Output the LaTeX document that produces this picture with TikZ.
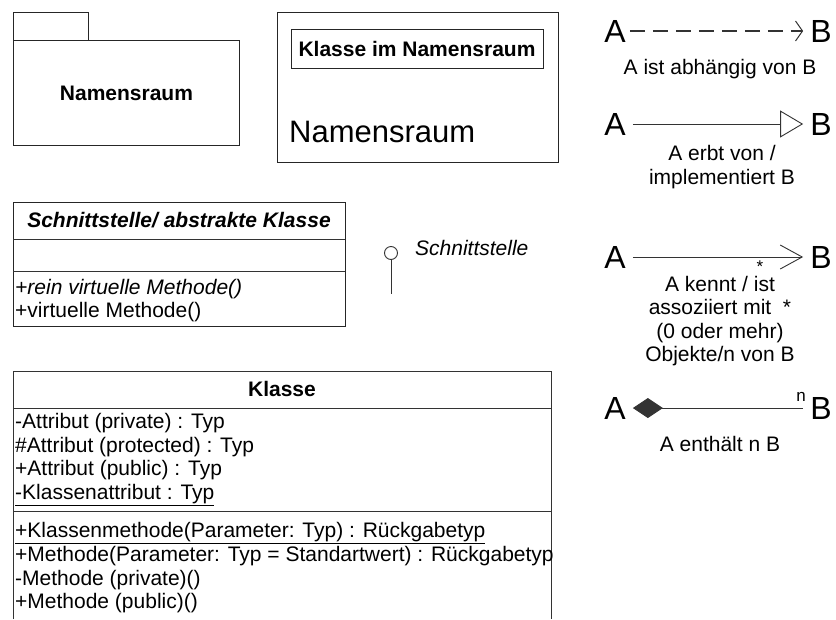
\documentclass[tikz,border=0pt]{standalone}
\usepackage{fontspec}
\setmainfont{Liberation Sans}
\usetikzlibrary{
    arrows.meta,
    positioning
}

\begin{document}
\begin{tikzpicture}[
        x=1pt, y=-1pt,
        every node/.style={
            inner sep=0pt,
            font=\fontsize{21pt}{23.5pt}\selectfont
        },
        frame/.style={
            rectangle,
            draw=black!85,
            line width=0.9pt,
            anchor=north west
        },
        rowtext/.style={
            anchor=base west
        },
        letter/.style={
            font=\fontsize{32pt}{32pt}\selectfont
        },
        caption/.style={
            align=center,
            font=\fontsize{21pt}{23.5pt}\selectfont
        },
        mult/.style={
            font=\fontsize{17pt}{17pt}\selectfont
        },
        link/.style={
            draw=black!80,
            line width=0.9pt
        }
    ]

    \useasboundingbox (0,0) rectangle (836,619);

    % package
    \node[frame, minimum width=75pt, minimum height=28pt] (tab) at (13,12) {};
    \node[frame, minimum width=226pt, minimum height=105pt] (pkg) at (13,40) {};
    \node[font=\bfseries\fontsize{21pt}{23pt}\selectfont] (pkgname) at (pkg.center) {Namensraum};

    % namespace with class
    \node[frame, minimum width=281pt, minimum height=150pt] (nsbox) at (277,12) {};
    \node[draw=black!85, line width=0.9pt, minimum width=252pt, minimum height=39pt,
          font=\bfseries\fontsize{21pt}{23pt}\selectfont] (nsclass) at (417,48.5)
        {Klasse im Namensraum};
    \node[anchor=base west, font=\fontsize{31pt}{33pt}\selectfont] (nsname) at (289,142)
        {Namensraum};

    % interface / abstract class
    \node[frame, minimum width=332pt, minimum height=124pt] (iface) at (13,202) {};
    \node[font=\bfseries\itshape\fontsize{21pt}{23pt}\selectfont] (ifacetitle) at (179,220)
        {Schnittstelle/ abstrakte Klasse};
    \draw[link] (13,239) -- (345,239);
    \draw[link] (13,271) -- (345,271);
    \node[rowtext, font=\itshape\fontsize{21pt}{23pt}\selectfont] (ifacem1) at (15,294)
        {+rein virtuelle Methode()};
    \node[rowtext] (ifacem2) at (15,317) {+virtuelle Methode()};

    % lollipop
    \node[circle, draw=black!80, line width=0.9pt, minimum size=13pt] (ball) at (391,253) {};
    \coordinate (stem) at (391,294);
    \draw[link] (ball) -- (stem);
    \node[anchor=base west, font=\itshape\fontsize{21pt}{23pt}\selectfont] (balllabel) at (415,255)
        {Schnittstelle};

    % class
    \draw[link] (13,619) -- (13,371) -- (551,371) -- (551,619);
    \node[font=\bfseries\fontsize{21pt}{23pt}\selectfont] (classtitle) at (282,389) {Klasse};
    \draw[link] (13,408) -- (551,408);
    \draw[link] (13,511) -- (551,511);
    \node[rowtext] (attr1) at (15,428) {-Attribut (private) : Typ};
    \node[rowtext] (attr2) at (15,452) {\#Attribut (protected) : Typ};
    \node[rowtext] (attr3) at (15,475) {+Attribut (public) : Typ};
    \node[rowtext] (attr4) at (15,499) {\underline{-Klassenattribut : Typ}};
    \node[rowtext] (meth1) at (15,537) {\underline{+Klassenmethode(Parameter: Typ) : Rückgabetyp}};
    \node[rowtext] (meth2) at (15,561) {+Methode(Parameter: Typ = Standartwert) : Rückgabetyp};
    \node[rowtext] (meth3) at (15,585) {-Methode (private)()};
    \node[rowtext] (meth4) at (15,608) {+Methode (public)()};

    % dependency
    \node[letter] (depA) at (615,31) {A};
    \node[letter] (depB) at (821,31) {B};
    \draw[link, line width=2.2pt, dash pattern=on 15pt off 8pt,
          -{Straight Barb[length=7pt, width=20pt, line width=1pt]},
          shorten <=4pt, shorten >=7pt] (depA) -- (depB);
    \node[caption] (depcap) at (720,69) {A ist abhängig von B};

    % inheritance
    \node[letter] (inhA) at (615,124) {A};
    \node[letter] (inhB) at (821,124) {B};
    \draw[link, -{Triangle[open, fill=white, length=23pt, width=27pt]},
          shorten <=7pt, shorten >=7pt] (inhA) -- (inhB);
    \node[caption] (inhcap) at (722,167) {A erbt von /\\implementiert B};

    % association
    \node[letter] (assA) at (615,257) {A};
    \node[letter] (assB) at (821,257) {B};
    \draw[link, -{Straight Barb[length=22pt, width=24pt]},
          shorten <=7pt, shorten >=7pt] (assA) -- (assB);
    \node[mult, anchor=base, text height=12pt, text depth=0pt] (assmult) at (760,272) {*};
    \node[caption] (asscap) at (720,321)
        {A kennt / ist\\assoziiert mit~~*\\(0 oder mehr)\\Objekte/n von B};

    % composition
    \node[letter] (comA) at (615,408) {A};
    \node[letter] (comB) at (821,408) {B};
    \draw[link, {Diamond[length=30pt, width=20pt]}-,
          shorten <=7pt, shorten >=7pt] (comA) -- (comB);
    \node[mult] (commult) at (801,397) {n};
    \node[caption] (comcap) at (720,444) {A enthält n B};

\end{tikzpicture}
\end{document}
